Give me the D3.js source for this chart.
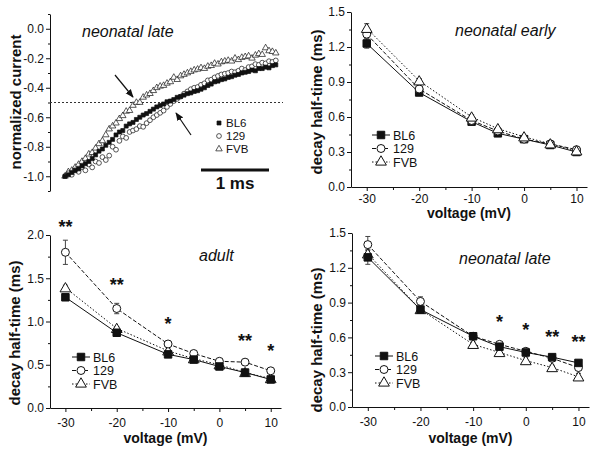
<!DOCTYPE html>
<html><head><meta charset="utf-8">
<script src="https://cdn.jsdelivr.net/npm/d3@7"></script>
<style>body{margin:0;background:#fff}svg{display:block;font-family:"Liberation Sans",Arial,sans-serif}</style>
</head><body><svg id="c" width="600" height="449"></svg>
<script>
// ---------- data ----------
const strains = ["BL6", "129", "FVB"];
const voltages = [-30, -20, -10, -5, 0, 5, 10];

// panel B: neonatal early
const earlyBL6 = [1.23, 0.81, 0.56, 0.46, 0.41, 0.36, 0.30];
const early129 = [1.31, 0.84, 0.57, 0.48, 0.41, 0.37, 0.32];
const earlyFVB = [1.36, 0.91, 0.60, 0.50, 0.43, 0.37, 0.31];
const earlyErrBL6 = [0.04, 0.02, 0.02, 0.01, 0.01, 0.01, 0.01];
const earlyErr129 = [0.04, 0.02, 0.02, 0.01, 0.01, 0.01, 0.01];
const earlyErrFVB = [0.04, 0.02, 0.02, 0.01, 0.01, 0.01, 0.01];

// panel C: adult
const adultBL6 = [1.28, 0.87, 0.62, 0.56, 0.48, 0.41, 0.33];
const adult129 = [1.80, 1.15, 0.74, 0.63, 0.54, 0.53, 0.43];
const adultFVB = [1.39, 0.92, 0.66, 0.57, 0.50, 0.41, 0.34];
const adultErrBL6 = [0.03, 0.02, 0.02, 0.02, 0.02, 0.02, 0.02];
const adultErr129 = [0.14, 0.06, 0.03, 0.02, 0.02, 0.02, 0.02];
const adultErrFVB = [0.03, 0.02, 0.02, 0.02, 0.02, 0.02, 0.02];
const adultStarV = [-30, -20, -10, 5, 10];
const adultStarLevel = [2.12, 1.45, 1.00, 0.80, 0.68];
const adultStarText = ["**", "**", "*", "**", "*"];

// panel D: neonatal late
const lateBL6 = [1.29, 0.84, 0.61, 0.52, 0.47, 0.43, 0.38];
const late129 = [1.40, 0.91, 0.61, 0.54, 0.48, 0.42, 0.34];
const lateFVB = [1.32, 0.84, 0.54, 0.47, 0.40, 0.34, 0.26];
const lateErrBL6 = [0.06, 0.03, 0.02, 0.02, 0.02, 0.02, 0.02];
const lateErr129 = [0.07, 0.04, 0.02, 0.02, 0.02, 0.02, 0.02];
const lateErrFVB = [0.04, 0.03, 0.02, 0.02, 0.03, 0.02, 0.03];
const lateStarV = [-5, 0, 5, 10];
const lateStarLevel = [0.75, 0.68, 0.62, 0.58];
const lateStarText = ["*", "*", "**", "**"];

// panel A: normalized current traces (time in ms)
const traceTime = [0.00,0.05,0.10,0.15,0.20,0.25,0.30,0.35,0.40,0.45,0.50,0.55,0.60,0.65,0.70,0.75,0.80,0.85,0.90,0.95,
  1.00,1.05,1.10,1.15,1.20,1.25,1.30,1.35,1.40,1.45,1.50,1.55,1.60,1.65,1.70,1.75,1.80,1.85,1.90,1.95,
  2.00,2.05,2.10,2.15,2.20,2.25,2.30,2.35,2.40,2.45,2.50,2.55,2.60,2.65,2.70,2.75,2.80,2.85,2.90,2.95,
  3.00,3.05,3.10];
const traceBL6 = [-1.00,-0.99,-0.975,-0.96,-0.95,-0.93,-0.915,-0.90,-0.88,-0.855,-0.83,-0.815,-0.79,-0.77,-0.75,-0.72,-0.70,-0.69,-0.66,-0.645,
  -0.635,-0.615,-0.60,-0.585,-0.575,-0.56,-0.545,-0.53,-0.52,-0.51,-0.495,-0.49,-0.48,-0.465,-0.46,-0.45,-0.44,-0.435,-0.425,-0.42,
  -0.41,-0.40,-0.385,-0.375,-0.36,-0.355,-0.345,-0.34,-0.33,-0.325,-0.315,-0.31,-0.30,-0.295,-0.29,-0.28,-0.285,-0.27,-0.27,-0.26,
  -0.265,-0.25,-0.245];
const trace129 = [-1.00,-0.98,-0.99,-0.96,-0.97,-0.94,-0.96,-0.92,-0.94,-0.90,-0.91,-0.87,-0.89,-0.86,-0.80,-0.82,-0.76,-0.73,-0.74,-0.70,
  -0.69,-0.68,-0.66,-0.665,-0.64,-0.62,-0.60,-0.585,-0.57,-0.555,-0.53,-0.51,-0.49,-0.475,-0.46,-0.44,-0.425,-0.41,-0.40,-0.395,
  -0.38,-0.37,-0.35,-0.345,-0.33,-0.32,-0.31,-0.305,-0.30,-0.29,-0.295,-0.285,-0.27,-0.28,-0.26,-0.255,-0.24,-0.245,-0.23,-0.235,
  -0.22,-0.225,-0.215];
const traceFVB = [-1.00,-0.97,-0.96,-0.94,-0.92,-0.90,-0.88,-0.85,-0.84,-0.81,-0.78,-0.76,-0.72,-0.68,-0.66,-0.64,-0.61,-0.59,-0.56,-0.555,
  -0.52,-0.50,-0.50,-0.465,-0.45,-0.44,-0.42,-0.40,-0.39,-0.385,-0.37,-0.36,-0.33,-0.345,-0.32,-0.31,-0.30,-0.29,-0.28,-0.275,
  -0.265,-0.27,-0.255,-0.25,-0.235,-0.24,-0.225,-0.22,-0.215,-0.22,-0.20,-0.21,-0.195,-0.19,-0.185,-0.20,-0.18,-0.17,-0.175,-0.13,
  -0.15,-0.155,-0.165];
const traceTicks = [0.0, -0.2, -0.4, -0.6, -0.8, -1.0];
const halfLevel = -0.5;

// ---------- drawing ----------
const svg = d3.select("#c");
const INK = "#111";
const fmt1 = d => d.toFixed(1).replace("\u2212", "-");
const fmt0 = d => String(d);
const dashes = {"BL6": null, "129": "4,2", "FVB": "1.5,2"};
const symType = {"BL6": d3.symbolSquare, "129": d3.symbolCircle, "FVB": d3.symbolTriangle};
const symFill = {"BL6": INK, "129": "#fff", "FVB": "#fff"};

function symbolPath(s, big) {
  const sizes = big ? {"BL6": 56, "129": 50, "FVB": 50} : {"BL6": 16, "129": 18, "FVB": 18};
  return d3.symbol().type(symType[s]).size(sizes[s])();
}

function yLabel(x, y, text) {
  svg.append("text").attr("transform", `translate(${x},${y}) rotate(-90)`)
    .attr("text-anchor", "middle").attr("font-weight", "bold").attr("font-size", 15)
    .attr("fill", INK).text(text);
}

function styleAxis(g) {
  g.selectAll("path,line").attr("stroke", INK).attr("stroke-width", 1);
  g.selectAll("text").attr("fill", INK).attr("font-size", 12).attr("font-family", '"Liberation Sans",Arial,sans-serif');
}

function voltagePanel(cfg) {
  const x = d3.scaleLinear().domain([-33, 12]).range(cfg.xr);
  const y = d3.scaleLinear().domain([0, cfg.ymax]).range(cfg.yr);
  const g = svg.append("g");
  // axes
  const ax = g.append("g").attr("transform", `translate(0,${cfg.yr[0]})`)
    .call(d3.axisBottom(x).tickValues([-30, -20, -10, 0, 10]).tickFormat(fmt0).tickSize(4).tickSizeOuter(0).tickPadding(cfg.xpad));
  styleAxis(ax);
  const axm = g.append("g").attr("transform", `translate(0,${cfg.yr[0]})`)
    .call(d3.axisBottom(x).tickValues([-25, -15, -5, 5]).tickFormat("").tickSize(3).tickSizeOuter(0));
  styleAxis(axm); axm.select("path").remove();
  const ay = g.append("g").attr("transform", `translate(${cfg.xr[0]},0)`)
    .call(d3.axisLeft(y).tickValues(cfg.yticks).tickFormat(fmt1).tickSize(4).tickSizeOuter(0).tickPadding(2));
  styleAxis(ay);
  const aym = g.append("g").attr("transform", `translate(${cfg.xr[0]},0)`)
    .call(d3.axisLeft(y).tickValues(cfg.yminor).tickFormat("").tickSize(2).tickSizeOuter(0));
  styleAxis(aym); aym.select("path").remove();

  // lines
  const line = d3.line().x((d, i) => x(voltages[i])).y(d => y(d));
  strains.forEach(s => {
    g.append("path").attr("d", line(cfg.series[s])).attr("fill", "none")
      .attr("stroke", INK).attr("stroke-width", 1).attr("stroke-dasharray", dashes[s]);
  });
  // error bars
  strains.forEach(s => {
    cfg.series[s].forEach((v, i) => {
      const e = cfg.err[s][i];
      const cx = x(voltages[i]);
      g.append("line").attr("x1", cx).attr("x2", cx).attr("y1", y(v - e)).attr("y2", y(v + e)).attr("stroke", "#444");
      [v - e, v + e].forEach(w => g.append("line").attr("x1", cx - 2.5).attr("x2", cx + 2.5)
        .attr("y1", y(w)).attr("y2", y(w)).attr("stroke", "#444"));
    });
  });
  // markers
  cfg.order.forEach(s => {
    cfg.series[s].forEach((v, i) => {
      g.append("path").attr("d", symbolPath(s, true))
        .attr("transform", `translate(${x(voltages[i])},${y(v) + (s === "FVB" ? 1 : 0)})`)
        .attr("fill", symFill[s]).attr("stroke", INK).attr("stroke-width", 1);
    });
  });
  // stars
  if (cfg.stars) {
    cfg.stars.v.forEach((v, i) => {
      g.append("text").attr("x", x(v)).attr("y", y(cfg.stars.level[i]) + 8)
        .attr("text-anchor", "middle").attr("font-size", 18).attr("font-weight", "bold")
        .attr("fill", INK).text(cfg.stars.text[i]);
    });
  }
  // title
  g.append("text").attr("x", cfg.title[0]).attr("y", cfg.title[1]).attr("font-style", "italic")
    .attr("font-size", 16).attr("fill", INK).text(cfg.title[2]);
  // axis titles
  g.append("text").attr("x", (cfg.xr[0] + cfg.xr[1]) / 2).attr("y", cfg.xlabY).attr("text-anchor", "middle")
    .attr("font-weight", "bold").attr("font-size", 14).attr("fill", INK).text("voltage (mV)");
  yLabel(cfg.ylab[0], cfg.ylab[1], "decay half-time (ms)");
  // legend
  strains.forEach((s, i) => {
    const ly = cfg.leg[1] + i * 13.5;
    const lx = cfg.leg[0];
    g.append("line").attr("x1", lx).attr("x2", lx + 18).attr("y1", ly).attr("y2", ly)
      .attr("stroke", INK).attr("stroke-dasharray", dashes[s]);
    g.append("path").attr("d", symbolPath(s, true)).attr("transform", `translate(${lx + 9},${ly})`)
      .attr("fill", symFill[s]).attr("stroke", INK);
    g.append("text").attr("x", lx + 21).attr("y", ly + 4.5).attr("font-size", 12.5).attr("fill", INK).text(s);
  });
}

voltagePanel({
  xr: [351, 587], yr: [187, 12], ymax: 1.5, xpad: 3,
  yticks: [0, 0.3, 0.6, 0.9, 1.2, 1.5], yminor: [0.15, 0.45, 0.75, 1.05, 1.35],
  series: {"BL6": earlyBL6, "129": early129, "FVB": earlyFVB},
  err: {"BL6": earlyErrBL6, "129": earlyErr129, "FVB": earlyErrFVB},
  order: ["BL6", "129", "FVB"],
  title: [455, 36, "neonatal early"], xlabY: 218, ylab: [322, 102], leg: [372, 135]
});
voltagePanel({
  xr: [50, 281], yr: [408, 235], ymax: 2.0, xpad: 6,
  yticks: [0, 0.5, 1.0, 1.5, 2.0], yminor: [0.25, 0.75, 1.25, 1.75],
  series: {"BL6": adultBL6, "129": adult129, "FVB": adultFVB},
  err: {"BL6": adultErrBL6, "129": adultErr129, "FVB": adultErrFVB},
  order: ["FVB", "129", "BL6"],
  stars: {v: adultStarV, level: adultStarLevel, text: adultStarText},
  title: [199, 261, "adult"], xlabY: 443, ylab: [20, 333], leg: [72, 357]
});
voltagePanel({
  xr: [352, 589], yr: [407, 233], ymax: 1.5, xpad: 6,
  yticks: [0, 0.3, 0.6, 0.9, 1.2, 1.5], yminor: [0.15, 0.45, 0.75, 1.05, 1.35],
  series: {"BL6": lateBL6, "129": late129, "FVB": lateFVB},
  err: {"BL6": lateErrBL6, "129": lateErr129, "FVB": lateErrFVB},
  order: ["FVB", "129", "BL6"],
  stars: {v: lateStarV, level: lateStarLevel, text: lateStarText},
  title: [459, 264, "neonatal late"], xlabY: 443, ylab: [322, 340], leg: [375, 356]
});

// ---------- panel A ----------
(function () {
  const x = d3.scaleLinear().domain([0, 1]).range([65, 133]);
  const y = d3.scaleLinear().domain([-1.1, 0.1]).range([191, 14]);
  const g = svg.append("g");
  const ay = g.append("g").attr("transform", "translate(50,0)")
    .call(d3.axisLeft(y).tickValues(traceTicks).tickFormat(fmt1).tickSize(4).tickSizeOuter(0).tickPadding(2));
  styleAxis(ay);
  const aym = g.append("g").attr("transform", "translate(50,0)")
    .call(d3.axisLeft(y).tickValues([0.1, -0.1, -0.3, -0.5, -0.7, -0.9, -1.1]).tickFormat("").tickSize(2).tickSizeOuter(0));
  styleAxis(aym); aym.select("path").remove();
  // half-amplitude reference
  g.append("line").attr("x1", 50).attr("x2", 283).attr("y1", y(halfLevel)).attr("y2", y(halfLevel))
    .attr("stroke", "#333").attr("stroke-dasharray", "2,2");
  const traces = {"BL6": traceBL6, "129": trace129, "FVB": traceFVB};
  ["FVB", "129", "BL6"].forEach(s => {
    traces[s].forEach((v, i) => {
      g.append("path").attr("d", symbolPath(s, false))
        .attr("transform", `translate(${x(traceTime[i])},${y(v)})`)
        .attr("fill", symFill[s]).attr("stroke", INK).attr("stroke-width", 0.7);
    });
  });
  // arrows
  const defs = svg.append("defs");
  defs.append("marker").attr("id", "ah").attr("viewBox", "0 0 10 10").attr("refX", 9).attr("refY", 5)
    .attr("markerWidth", 7).attr("markerHeight", 7).attr("orient", "auto")
    .append("path").attr("d", "M0,1 L10,5 L0,9 Z").attr("fill", INK);
  g.append("line").attr("x1", 115).attr("y1", 75).attr("x2", 133).attr("y2", 97)
    .attr("stroke", INK).attr("stroke-width", 1.2).attr("marker-end", "url(#ah)");
  g.append("line").attr("x1", 191).attr("y1", 135).attr("x2", 176).attr("y2", 113)
    .attr("stroke", INK).attr("stroke-width", 1.2).attr("marker-end", "url(#ah)");
  // legend
  strains.forEach((s, i) => {
    const ly = 123 + i * 13;
    g.append("path").attr("d", symbolPath(s, false)).attr("transform", `translate(219,${ly})`)
      .attr("fill", symFill[s]).attr("stroke", INK).attr("stroke-width", 0.7);
    g.append("text").attr("x", 226).attr("y", ly + 4).attr("font-size", 11.5).attr("fill", INK).text(s);
  });
  // scale bar 1 ms
  g.append("line").attr("x1", x(2)).attr("x2", x(3)).attr("y1", 170).attr("y2", 170)
    .attr("stroke", INK).attr("stroke-width", 3);
  g.append("text").attr("x", (x(2) + x(3)) / 2).attr("y", 189).attr("text-anchor", "middle")
    .attr("font-weight", "bold").attr("font-size", 17).attr("fill", INK).text("1 ms");
  g.append("text").attr("x", 82).attr("y", 37).attr("font-style", "italic").attr("font-size", 16)
    .attr("fill", INK).text("neonatal late");
  yLabel(21, 102, "normalized current");
})();
</script></body></html>
